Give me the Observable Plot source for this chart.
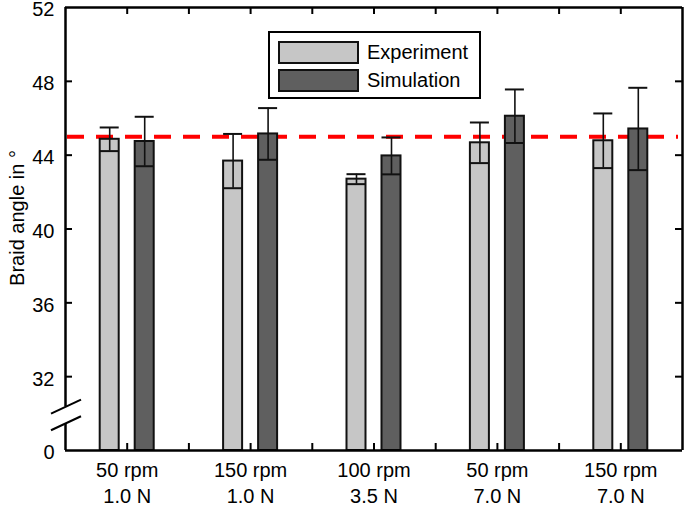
<!DOCTYPE html>
<html>
<head>
<meta charset="utf-8">
<script src="https://cdn.jsdelivr.net/npm/d3@7"></script>
<script src="https://cdn.jsdelivr.net/npm/@observablehq/plot@0.6"></script>
<style>
  html, body { margin: 0; padding: 0; background: #fff; }
  #wrap { position: relative; width: 685px; height: 508px; font-family: "Liberation Sans", Arial, sans-serif; }
  #wrap svg text { font-size: 20px; fill: #000; }
  #legend { position: absolute; left: 268px; top: 31px; width: 209px; height: 64px; border: 2px solid #000; background: #fff; box-sizing: content-box; }
  .lg-row { position: absolute; left: 8px; display: flex; align-items: center; font-size: 20px; line-height: 23px; color: #000; }
  .lg-sw { width: 77px; height: 19px; border: 2px solid #111; margin-right: 8px; }
</style>
</head>
<body>
<div id="wrap"></div>
<script>
// ---- data ----
const categories = ["50 rpm\n1.0 N", "150 rpm\n1.0 N", "100 rpm\n3.5 N", "50 rpm\n7.0 N", "150 rpm\n7.0 N"];
const seriesNames = ["Experiment", "Simulation"];
const expMean = [44.86, 43.68, 42.70, 44.67, 44.78];
const expErr  = [0.64, 1.47, 0.27, 1.10, 1.48];
const simMean = [44.74, 45.15, 43.96, 46.11, 45.42];
const simErr  = [1.34, 1.40, 1.00, 1.45, 2.23];
const targetAngle = 45;
const yTicks = [28, 32, 36, 40, 44, 48, 52];
const yTickLabels = ["0", "32", "36", "40", "44", "48", "52"];
const axisBreak = [29.45, 30.35];

// ---- layout / style ----
const W = 685, H = 508;
const mL = 65, mR = 3, mT = 7, mB = 58;
const plotW = W - mL - mR, plotH = H - mT - mB;
const colors = {Experiment: "#c6c6c6", Simulation: "#5f5f5f"};
const offset = 0.1418, halfW = 0.077;
const yMin = 28, yMax = 52;

const rows = [];
categories.forEach((c, k) => {
  rows.push({i: k + 1, series: "Experiment", mean: expMean[k], err: expErr[k]});
  rows.push({i: k + 1, series: "Simulation", mean: simMean[k], err: simErr[k]});
});
const cx = d => d.i + (d.series === "Experiment" ? -offset : offset);
const xTicks = d3.range(1, 5.01, 0.5);

const breakMark = (index, scales, values, dims) => {
  const g = d3.create("svg:g");
  const x0 = scales.x(0.5);
  for (const v of axisBreak) {
    const y = scales.y(v);
    g.append("line").attr("x1", x0 - 14).attr("y1", y + 7).attr("x2", x0 + 16).attr("y2", y - 7)
      .attr("stroke", "#000").attr("stroke-width", 2);
  }
  return g.node();
};

const chart = Plot.plot({
  width: W, height: H,
  marginLeft: mL, marginRight: mR, marginTop: mT, marginBottom: mB,
  style: {fontFamily: "Liberation Sans, Arial, sans-serif", fontSize: "20px", color: "#000", background: "#fff"},
  x: {type: "linear", domain: [0.5, 5.5]},
  y: {domain: [yMin, yMax]},
  marks: [
    Plot.ruleY([targetAngle], {stroke: "#ff0000", strokeWidth: 4, strokeDasharray: "17,12", insetLeft: 2, insetRight: 4}),
    Plot.rect(rows, {x1: d => cx(d) - halfW, x2: d => cx(d) + halfW, y1: () => yMin, y2: "mean",
      fill: d => colors[d.series], stroke: "#111", strokeWidth: 2}),
    Plot.ruleX(rows, {x: cx, y1: d => d.mean - d.err, y2: d => d.mean + d.err, stroke: "#111", strokeWidth: 1.6}),
    Plot.ruleY(rows, {y: d => d.mean + d.err, x1: d => cx(d) - halfW, x2: d => cx(d) + halfW, stroke: "#111", strokeWidth: 2}),
    Plot.ruleY(rows, {y: d => d.mean - d.err, x1: d => cx(d) - halfW, x2: d => cx(d) + halfW, stroke: "#111", strokeWidth: 2}),
    // frame
    Plot.ruleY([yMax, yMin], {stroke: "#000", strokeWidth: 2.5}),
    Plot.ruleX([5.5], {stroke: "#000", strokeWidth: 2.5}),
    Plot.ruleX([0.5], {y1: yMin, y2: axisBreak[0], stroke: "#000", strokeWidth: 2.5}),
    Plot.ruleX([0.5], {y1: axisBreak[1], y2: yMax, stroke: "#000", strokeWidth: 2.5}),
    breakMark,
    // inward ticks
    Plot.ruleY(yTicks.slice(1, -1), {insetRight: plotW - 7, stroke: "#000", strokeWidth: 2}),
    Plot.ruleY(yTicks.slice(1, -1), {insetLeft: plotW - 7, stroke: "#000", strokeWidth: 2}),
    Plot.ruleX(xTicks, {insetTop: plotH - 7, stroke: "#000", strokeWidth: 2}),
    Plot.ruleX(xTicks, {insetBottom: plotH - 7, stroke: "#000", strokeWidth: 2}),
    Plot.axisY({ticks: yTicks, tickSize: 0, tickPadding: 11, label: null, dy: 2.5,
      tickFormat: v => yTickLabels[yTicks.indexOf(v)], fontSize: 20}),
    Plot.axisX({ticks: [1, 2, 3, 4, 5], tickSize: 0, tickPadding: 8, label: null,
      tickFormat: v => categories[v - 1], lineHeight: 1.3, fontSize: 20}),
    Plot.text(["Braid angle in °"], {frameAnchor: "left", textAnchor: "middle", dx: -48, dy: -11, rotate: -90, fontSize: 20, fill: "#000"})
  ]
});

const wrap = document.getElementById("wrap");
wrap.appendChild(chart);
const legend = document.createElement("div");
legend.id = "legend";
seriesNames.forEach((s, k) => {
  const row = document.createElement("div");
  row.className = "lg-row";
  row.style.top = (8 + k * 28) + "px";
  const sw = document.createElement("div");
  sw.className = "lg-sw";
  sw.style.background = colors[s];
  const t = document.createElement("span");
  t.textContent = s;
  row.appendChild(sw); row.appendChild(t);
  legend.appendChild(row);
});
wrap.appendChild(legend);
</script>
</body>
</html>
